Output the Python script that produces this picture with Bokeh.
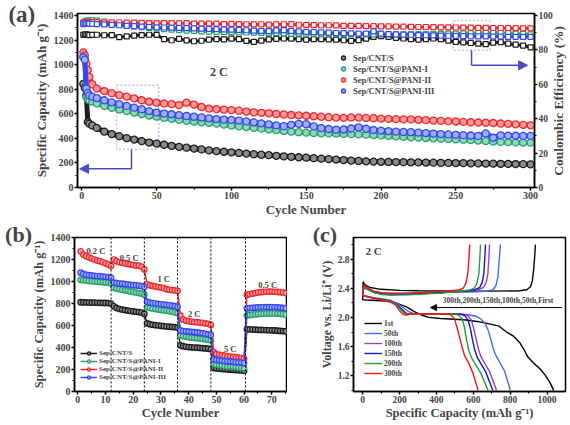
import math
from bokeh.plotting import figure
from bokeh.models import (Range1d, LinearAxis, Legend, LegendItem, Label, Span,
                          Arrow, NormalHead, BoxAnnotation, FixedTicker, PrintfTickFormatter)
from bokeh.layouts import column, row
from bokeh.embed import file_html
from bokeh.resources import INLINE

FONT = "Liberation Serif"

# ---------------- panel (a): long cycling at 2 C ----------------
cycles_a = [1, 2, 3, 4, 5, 7] + list(range(10, 301, 5))

cap_s = [843, 810, 750, 533, 520, 505,
         485, 455, 435, 418, 402, 390, 378, 366, 357, 348,
         339, 331, 324, 317, 310, 302, 296, 291, 286, 281,
         276, 271, 267, 263, 258, 254, 250, 246, 243, 239,
         235, 231, 227, 223, 219, 216, 213, 211, 209, 208,
         207, 206, 205, 204, 203, 202, 201, 200, 199, 198,
         197, 196, 195, 194, 193, 192, 191, 190, 189]
cap_p1 = [1065, 1045, 735, 720, 710, 700,
          685, 665, 648, 635, 622, 610, 598, 586, 577, 568,
          559, 550, 543, 537, 531, 527, 520, 512, 505, 498,
          492, 485, 479, 474, 467, 460, 455, 450, 447, 444,
          441, 440, 438, 436, 434, 432, 430, 427, 424, 420,
          416, 412, 409, 406, 403, 400, 397, 395, 392, 389,
          386, 382, 378, 374, 371, 369, 367, 366, 365]
cap_p2 = [1100, 1075, 1008, 955, 900, 840,
          805, 785, 768, 752, 740, 725, 710, 698, 690, 684,
          678, 671, 690, 675, 655, 642, 638, 634, 630, 625,
          618, 612, 608, 604, 598, 594, 590, 587, 584, 580,
          576, 572, 569, 567, 570, 569, 566, 564, 561, 558,
          556, 555, 554, 551, 548, 545, 542, 540, 537, 534,
          531, 529, 527, 525, 521, 518, 514, 510, 506]
cap_p3 = [1060, 1040, 805, 770, 750, 740,
          728, 710, 693, 678, 664, 650, 637, 622, 610, 602,
          596, 589, 582, 576, 570, 563, 557, 553, 550, 545,
          538, 530, 522, 513, 506, 499, 510, 518, 515, 497,
          484, 476, 470, 472, 480, 490, 478, 468, 463, 459,
          455, 452, 450, 447, 443, 439, 435, 432, 429, 426,
          423, 420, 440, 405, 425, 422, 421, 420, 420]

ce_s = [88.8, 88.9, 89.0, 88.8, 88.6, 88.7,
        88.8, 88.5, 88.6, 87.4, 87.8, 88.3, 88.6, 88.8, 88.7, 86.2,
        85.6, 86.4, 85.5, 85.0, 85.3, 86.0, 86.3, 86.1, 86.5, 86.2,
        85.2, 84.6, 85.4, 86.1, 86.4, 86.6, 86.5, 86.3, 86.0, 86.2,
        86.3, 86.1, 85.9, 85.6, 85.2, 85.7, 86.5, 87.5, 88.0, 87.6,
        87.0, 86.6, 86.2, 86.0, 86.3, 86.6, 86.2, 85.4, 84.6, 84.3,
        84.0, 83.6, 83.3, 84.2, 84.5, 83.6, 83.0, 82.5, 81.5]
ce_p1 = [96.0, 96.5, 96.8, 97.0, 97.0, 97.1,
         97.0, 96.5, 95.5, 94.8, 94.2, 93.7, 93.2, 92.8, 92.4, 92.1,
         91.8, 91.5, 91.2, 91.0, 90.8, 90.6, 90.5, 90.4, 90.3, 90.2,
         90.1, 90.0, 89.9, 89.8, 89.7, 89.6, 89.5, 89.5, 89.4, 89.4,
         89.3, 89.3, 89.2, 89.2, 89.1, 89.1, 89.0, 89.0, 89.0, 89.0,
         89.0, 89.0, 89.1, 89.1, 89.2, 89.2, 89.3, 89.4, 89.5, 89.6,
         89.7, 89.8, 89.9, 90.0, 90.0, 89.8, 89.5, 89.3, 89.0]
ce_p2 = [95.5, 96.0, 96.2, 96.3, 96.3, 96.2,
         96.1, 96.0, 96.0, 95.9, 95.8, 95.8, 95.7, 95.6, 95.5, 95.6,
         95.5, 95.4, 95.5, 95.3, 95.3, 95.2, 95.2, 95.0, 95.1, 95.0,
         94.9, 94.8, 94.9, 94.7, 94.8, 94.9, 95.0, 94.6, 94.5, 94.4,
         94.3, 94.3, 94.2, 94.0, 94.0, 93.9, 93.8, 93.8, 93.7, 93.6,
         93.5, 93.5, 93.4, 93.3, 93.3, 93.2, 93.1, 93.1, 93.0, 92.9,
         92.9, 92.8, 92.8, 92.7, 92.7, 92.6, 92.6, 92.5, 92.5]
ce_p3 = [95.0, 95.2, 95.3, 95.3, 95.2, 95.1,
         95.0, 94.8, 94.5, 94.3, 94.0, 93.8, 93.5, 93.3, 93.1, 93.0,
         92.9, 92.8, 92.6, 92.5, 92.3, 92.2, 92.0, 91.9, 91.8, 91.6,
         91.4, 91.2, 91.0, 90.9, 91.3, 91.5, 91.0, 90.7, 90.5, 90.4,
         90.2, 90.0, 89.8, 89.7, 89.6, 89.5, 89.4, 90.8, 89.4, 89.2,
         89.0, 88.9, 88.8, 88.6, 88.5, 88.4, 88.3, 88.2, 88.1, 88.0,
         87.9, 87.8, 87.8, 87.7, 87.7, 87.6, 87.6, 87.5, 87.5]

names_a = ["Sep/CNT/S", "Sep/CNT/S@PANI-I", "Sep/CNT/S@PANI-II", "Sep/CNT/S@PANI-III"]

# ---------------- panel (b): rate capability ----------------
cycles_b = list(range(1, 76))
rate_s = [812, 810, 810, 809, 808, 808, 807, 806, 805, 805, 804, 800,
          775, 760, 750, 745, 740, 736, 732, 728, 725, 722, 718, 705,
          620, 612, 607, 603, 600, 597, 594, 591, 589, 587, 585, 582,
          420, 412, 407, 404, 402, 400, 398, 396, 394, 392, 390, 385,
          215, 210, 207, 205, 203, 201, 199, 197, 195, 193, 191, 188,
          565, 565, 563, 562, 561, 560, 559, 558, 557, 556, 555, 553, 551, 549, 547]
rate_p1 = [1015, 1012, 1008, 1005, 1003, 1000, 998, 996, 994, 992, 990, 985,
           945, 935, 930, 925, 920, 915, 910, 905, 900, 895, 890, 880,
           765, 760, 755, 750, 746, 742, 738, 734, 730, 725, 720, 712,
           510, 503, 498, 494, 490, 487, 484, 481, 478, 474, 470, 465,
           252, 243, 238, 235, 232, 229, 227, 225, 222, 220, 217, 213,
           690, 695, 698, 701, 704, 706, 708, 709, 710, 710, 709, 708, 706, 703, 700]
rate_p2 = [1275, 1245, 1230, 1220, 1210, 1200, 1190, 1185, 1175, 1165, 1155, 1140,
           1200, 1185, 1175, 1170, 1165, 1160, 1155, 1150, 1145, 1145, 1135, 1110,
           975, 965, 960, 955, 950, 945, 940, 930, 925, 922, 920, 915,
           690, 655, 645, 640, 636, 632, 630, 627, 625, 620, 615, 605,
           360, 340, 335, 330, 326, 322, 318, 315, 312, 308, 304, 298,
           880, 885, 890, 895, 900, 903, 905, 907, 908, 908, 907, 905, 903, 900, 895]
rate_p3 = [1080, 1070, 1062, 1058, 1055, 1052, 1050, 1048, 1045, 1043, 1040, 1035,
           990, 985, 982, 980, 977, 973, 970, 967, 965, 962, 958, 950,
           815, 808, 803, 800, 797, 793, 790, 787, 784, 780, 776, 770,
           555, 550, 547, 545, 542, 540, 537, 533, 530, 525, 520, 515,
           292, 287, 283, 280, 277, 274, 272, 270, 267, 265, 262, 258,
           755, 758, 760, 762, 764, 765, 766, 767, 767, 767, 766, 765, 763, 760, 757]
rate_bounds = [12, 24, 36, 48, 60.5]
rate_labels = ["0.2 C", "0.5 C", "1 C", "2 C", "5 C", "0.5 C"]
rate_label_x = [6.5, 18.5, 31, 42, 55, 68.5]
rate_label_y = [1275, 1215, 1025, 706, 390, 972]

# ---------------- panel (c): charge/discharge profiles ----------------
curve_names = ["1st", "50th", "100th", "150th", "200th", "300th"]
dis_cap = [
    [0, 50, 120, 160, 200, 240, 280, 320, 360, 420, 500, 560, 620, 680, 740, 780, 820, 850, 875, 895, 925, 960, 990, 1015, 1036],
    [0, 60, 150, 190, 220, 250, 275, 320, 450, 560, 610, 640, 662, 680, 693, 705, 718, 740, 770, 801],
    [0, 60, 150, 185, 212, 235, 250, 290, 430, 545, 572, 590, 602, 614, 626, 640, 662, 690, 726],
    [0, 60, 150, 185, 210, 232, 248, 280, 420, 530, 555, 572, 584, 595, 607, 620, 640, 668, 706],
    [0, 60, 150, 180, 205, 225, 240, 270, 400, 500, 520, 540, 552, 563, 575, 590, 610, 640, 680],
    [0, 60, 150, 178, 197, 215, 233, 260, 386, 477, 498, 516, 534, 552, 576, 599, 626],
]
dis_v = [
    [2.24, 2.235, 2.225, 2.21, 2.18, 2.14, 2.08, 2.03, 2.0, 1.985, 1.975, 1.965, 1.945, 1.915, 1.88, 1.8, 1.74, 1.66, 1.56, 1.46, 1.38, 1.3, 1.21, 1.11, 1.0],
    [2.3, 2.27, 2.235, 2.19, 2.13, 2.08, 2.055, 2.05, 2.05, 2.04, 2.02, 1.98, 1.92, 1.83, 1.72, 1.6, 1.5, 1.4, 1.26, 1.0],
    [2.3, 2.265, 2.225, 2.18, 2.11, 2.06, 2.045, 2.05, 2.05, 2.045, 2.02, 1.96, 1.85, 1.72, 1.58, 1.47, 1.37, 1.25, 1.0],
    [2.3, 2.265, 2.225, 2.18, 2.11, 2.06, 2.045, 2.05, 2.05, 2.045, 2.02, 1.96, 1.85, 1.7, 1.56, 1.46, 1.37, 1.25, 1.0],
    [2.3, 2.265, 2.22, 2.18, 2.11, 2.06, 2.045, 2.05, 2.05, 2.045, 2.03, 1.98, 1.86, 1.7, 1.55, 1.45, 1.36, 1.24, 1.0],
    [2.3, 2.26, 2.21, 2.17, 2.1, 2.05, 2.03, 2.05, 2.05, 2.04, 1.98, 1.82, 1.64, 1.48, 1.37, 1.23, 1.0],
]
chg_cap = [
    [0, 2, 10, 40, 100, 200, 300, 500, 700, 850, 890, 910, 920, 927, 932, 937],
    [0, 3, 12, 30, 60, 100, 200, 350, 500, 620, 680, 705, 722, 733, 741, 747],
    [0, 3, 12, 30, 60, 100, 150, 250, 400, 560, 630, 655, 670, 679, 684, 688],
    [0, 3, 12, 30, 60, 100, 150, 250, 400, 550, 610, 635, 648, 657, 662, 666],
    [0, 3, 12, 30, 60, 100, 150, 250, 400, 520, 580, 605, 620, 630, 635, 639],
    [0, 3, 12, 30, 60, 100, 150, 250, 350, 450, 520, 545, 560, 570, 576, 581],
]
chg_v = [
    [2.24, 2.49, 2.45, 2.41, 2.385, 2.37, 2.365, 2.36, 2.36, 2.365, 2.38, 2.42, 2.5, 2.65, 2.8, 3.0],
    [2.3, 2.38, 2.4, 2.38, 2.35, 2.34, 2.335, 2.34, 2.345, 2.35, 2.36, 2.38, 2.43, 2.55, 2.8, 3.0],
    [2.3, 2.39, 2.41, 2.38, 2.345, 2.325, 2.315, 2.32, 2.335, 2.36, 2.38, 2.41, 2.48, 2.6, 2.8, 3.0],
    [2.3, 2.39, 2.41, 2.38, 2.345, 2.325, 2.315, 2.32, 2.335, 2.36, 2.38, 2.41, 2.48, 2.6, 2.8, 3.0],
    [2.3, 2.39, 2.41, 2.38, 2.34, 2.315, 2.305, 2.31, 2.33, 2.355, 2.375, 2.4, 2.47, 2.6, 2.8, 3.0],
    [2.3, 2.4, 2.43, 2.4, 2.36, 2.34, 2.325, 2.33, 2.345, 2.36, 2.375, 2.4, 2.47, 2.6, 2.8, 3.0],
]

# ---------------- styling ----------------
COL_A = ["#1c1c1c", "#27a06e", "#f0282d", "#3348f0"]
FILL_A = ["#8a8a8a", "#93d6b8", "#ff9d9d", "#a3adff"]
COL_C = ["#000000", "#3d6cf7", "#a040b0", "#1212c8", "#20a030", "#ff1010"]
ANNO = "#2a2ad6"
ARR = "#4a4ac8"


def style_axis(ax, tick_size="10px", label_size="13px", vertical=False):
    ax.axis_line_width = 1.5
    ax.major_tick_line_width = 1.5
    ax.minor_tick_line_width = 1.2
    ax.major_tick_in = 0
    ax.major_tick_out = 3
    ax.minor_tick_in = 0
    ax.minor_tick_out = 2
    ax.major_label_text_font = FONT
    ax.major_label_text_font_style = "bold"
    ax.major_label_text_font_size = tick_size
    ax.axis_label_text_font = FONT
    ax.axis_label_text_font_style = "bold"
    ax.axis_label_text_font_size = label_size
    ax.major_label_standoff = 1
    ax.axis_label_standoff = 2 if vertical else 0


def base_fig(w, h, xr, yr, bl, br, bt, bb):
    p = figure(width=w, height=h, x_range=Range1d(*xr), y_range=Range1d(*yr),
               output_backend="svg", toolbar_location=None,
               min_border_left=bl, min_border_right=br, min_border_top=bt, min_border_bottom=bb)
    p.xgrid.visible = False
    p.ygrid.visible = False
    p.outline_line_color = "black"
    p.outline_line_width = 1.5
    p.background_fill_color = "white"
    p.border_fill_color = "white"
    return p


def panel_label(p, x, y, text, size="23px"):
    p.add_layout(Label(x=x, y=y, text=text, text_font=FONT, text_font_style="bold",
                       text_font_size=size, text_align="center", text_baseline="middle"), "left")


# ---------- figure (a)
pa = base_fig(570, 219, (-2.9, 302.6), (0, 1416), 77, 34, 13, 30)
pa.extra_y_ranges = {"ce": Range1d(0, 101.14)}
pa.xaxis.ticker = FixedTicker(ticks=list(range(0, 301, 50)), minor_ticks=list(range(25, 300, 50)))
pa.yaxis.ticker = FixedTicker(ticks=list(range(0, 1401, 200)), minor_ticks=list(range(100, 1400, 200)))
pa.xaxis.axis_label = "Cycle Number"
pa.yaxis.axis_label = "Specific Capacity (mAh g\u207b\u00b9)"
ax_r = LinearAxis(y_range_name="ce",
                  ticker=FixedTicker(ticks=list(range(0, 101, 20)), minor_ticks=list(range(10, 100, 20))))
pa.add_layout(ax_r, "right")
style_axis(pa.xaxis[0])
style_axis(pa.yaxis[0], vertical=True)
style_axis(ax_r, tick_size="9.5px", label_size="12.5px", vertical=True)
# right-hand axis title, reading bottom-to-top like the reference
pa.add_layout(Label(x=318.5, y=705, text="Coulombic Efficiency (%)", angle=math.pi / 2,
                    text_font=FONT, text_font_style="bold", text_font_size="13.5px",
                    text_align="center", text_baseline="middle"), "right")

caps = [cap_s, cap_p1, cap_p2, cap_p3]
ces = [ce_s, ce_p1, ce_p2, ce_p3]
legend_rs = []
for ce, c in zip(ces, COL_A):
    pa.line(cycles_a, ce, y_range_name="ce", line_color=c, line_width=3)
    pa.scatter(cycles_a, ce, y_range_name="ce", marker="square", size=5,
               line_color=c, fill_color="white", line_width=1.2)
for cap, c, f in zip(caps, COL_A, FILL_A):
    pa.line(cycles_a, cap, line_color=c, line_width=5)
    r = pa.scatter(cycles_a, cap, marker="circle", size=7, line_color=c, fill_color=f, line_width=1.3)
    legend_rs.append(r)

leg_a = Legend(items=[LegendItem(label=n, renderers=[r]) for n, r in zip(names_a, legend_rs)],
               location=(261, 91), glyph_width=10, glyph_height=11, label_height=11, spacing=0,
               label_standoff=5, padding=0, margin=0, border_line_alpha=0, background_fill_alpha=0,
               label_text_font=FONT, label_text_font_style="bold", label_text_font_size="8.5px")
pa.add_layout(leg_a)

pa.add_layout(Label(x=91.6, y=941, text="2 C", text_font=FONT, text_font_style="bold",
                    text_font_size="12px", text_align="center", text_baseline="middle"))
pa.add_layout(BoxAnnotation(left=23.2, right=51.4, bottom=312, top=832, fill_alpha=0,
                            line_color=ANNO, line_dash="2 2", line_width=1.5))
pa.add_layout(BoxAnnotation(left=248.3, right=272.7, bottom=1117, top=1357, fill_alpha=0,
                            line_color=ANNO, line_dash="2 2", line_width=1.5))
pa.add_layout(Arrow(end=None, x_start=33.2, y_start=312, x_end=33.2, y_end=152,
                    line_color=ARR, line_width=1.5))
pa.add_layout(Arrow(end=NormalHead(size=9, fill_color=ARR, line_color=ARR),
                    x_start=33.2, y_start=152, x_end=-1.5, y_end=152, line_color=ARR, line_width=1.5))
pa.add_layout(Arrow(end=None, x_start=260.5, y_start=1117, x_end=260.5, y_end=994,
                    line_color=ARR, line_width=1.5))
pa.add_layout(Arrow(end=NormalHead(size=9, fill_color=ARR, line_color=ARR),
                    x_start=260.5, y_start=994, x_end=298, y_end=994, line_color=ARR, line_width=1.5))
panel_label(pa, -40.1, 1408, "(a)")

# ---------- figure (b)
pb = base_fig(287, 206, (-1.2, 75.3), (0, 1400), 74, 1, 16, 31)
pb.xaxis.ticker = FixedTicker(ticks=list(range(0, 71, 10)), minor_ticks=list(range(5, 76, 10)))
pb.yaxis.ticker = FixedTicker(ticks=list(range(0, 1401, 200)), minor_ticks=list(range(100, 1400, 200)))
pb.xaxis.axis_label = "Cycle Number"
pb.yaxis.axis_label = "Specific Capacity (mAh g\u207b\u00b9)"
style_axis(pb.xaxis[0], label_size="12.5px")
style_axis(pb.yaxis[0], label_size="12.5px", vertical=True)
for loc in rate_bounds:
    pb.add_layout(Span(location=loc, dimension="height", line_color="black", line_dash="2 2", line_width=1))
rates = [rate_s, rate_p1, rate_p2, rate_p3]
items_b = []
for vals, c, f, n in zip(rates, COL_A, FILL_A, names_a):
    rl = pb.line(cycles_b, vals, line_color=c, line_width=1.5)
    rs = pb.scatter(cycles_b, vals, marker="circle", size=5.5, line_color=c, fill_color=f, line_width=1.2)
    items_b.append(LegendItem(label=n, renderers=[rl, rs]))
leg_b = Legend(items=items_b, location=(6, 10), glyph_width=17, glyph_height=8, label_height=8, spacing=0,
               label_standoff=2, padding=0, margin=0, border_line_alpha=0, background_fill_alpha=0,
               label_text_font=FONT, label_text_font_style="bold", label_text_font_size="7px")
pb.add_layout(leg_b)
for t, x, y in zip(rate_labels, rate_label_x, rate_label_y):
    pb.add_layout(Label(x=x, y=y, text=t, text_font=FONT, text_font_style="bold",
                        text_font_size="8.5px", text_align="center", text_baseline="middle"))
panel_label(pb, -21.4, 1430, "(b)", "22px")

# ---------- figure (c)
pc = base_fig(283, 206, (-50, 1100), (0.985, 3.095), 66, 5, 18, 34)
pc.xaxis.ticker = FixedTicker(ticks=list(range(0, 1001, 200)), minor_ticks=list(range(100, 1100, 200)))
pc.yaxis.ticker = FixedTicker(ticks=[1.2, 1.6, 2.0, 2.4, 2.8], minor_ticks=[1.0, 1.4, 1.8, 2.2, 2.6, 3.0])
pc.yaxis.formatter = PrintfTickFormatter(format="%.1f")
pc.xaxis.axis_label = "Specific Capacity (mAh g\u207b\u00b9)"
pc.yaxis.axis_label = "Voltage vs. Li/Li\u207a (V)"
style_axis(pc.xaxis[0], tick_size="9.5px", label_size="12.5px")
style_axis(pc.yaxis[0], tick_size="9.5px", label_size="12px", vertical=True)
pc.yaxis[0].axis_label_standoff = 1
items_c = []
for dc, dv, cc, cv, col, n in zip(dis_cap, dis_v, chg_cap, chg_v, COL_C, curve_names):
    pc.line(cc, cv, line_color=col, line_width=1.4)
    rd = pc.line(dc, dv, line_color=col, line_width=1.4)
    items_c.append(LegendItem(label=n, renderers=[rd]))
leg_c = Legend(items=items_c, location=(11, 13), glyph_width=18, glyph_height=10, label_height=10, spacing=0,
               label_standoff=2, padding=0, margin=0, border_line_alpha=0, background_fill_alpha=0,
               label_text_font=FONT, label_text_font_style="bold", label_text_font_size="7.5px")
pc.add_layout(leg_c)
pc.add_layout(Label(x=15, y=2.91, text="2 C", text_font=FONT, text_font_style="bold",
                    text_font_size="11px", text_align="left", text_baseline="middle"))
pc.add_layout(Arrow(end=NormalHead(size=6, fill_color="black", line_color="black"),
                    x_start=1081, y_start=2.135, x_end=368, y_end=2.135, line_color="black", line_width=1))
pc.add_layout(Label(x=734, y=2.225, text="300th,200th,150th,100th,50th,First", text_font=FONT,
                    text_font_style="bold", text_font_size="7.5px", text_align="center", text_baseline="middle"))
panel_label(pc, -205, 3.14, "(c)", "22px")

layout = column(pa, row(pb, pc))
open("out.html", "w").write(file_html(layout, INLINE))
